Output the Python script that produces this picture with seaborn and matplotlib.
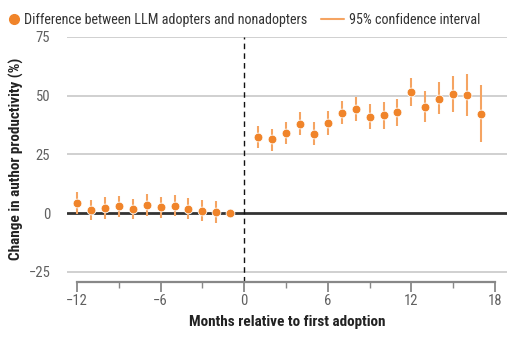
import numpy as np
import pandas as pd
import matplotlib
matplotlib.use("Agg")
import matplotlib.pyplot as plt
from matplotlib.lines import Line2D
from matplotlib import font_manager
import seaborn as sns

months = [-12, -11, -10, -9, -8, -7, -6, -5, -4, -3, -2, -1,
          1, 2, 3, 4, 5, 6, 7, 8, 9, 10, 11, 12, 13, 14, 15, 16, 17]
estimate = [4.3, 1.4, 2.3, 3.1, 1.7, 3.5, 2.4, 3.1, 1.8, 1.1, 0.4, 0.0,
            32.5, 31.4, 34.0, 38.0, 33.9, 38.3, 42.7, 44.3, 41.0, 41.6, 42.9,
            51.5, 45.4, 48.8, 50.8, 50.4, 42.4]
ci_low = [-0.2, -3.0, -2.3, -1.6, -2.7, -1.1, -2.0, -1.4, -2.6, -3.4, -4.1, np.nan,
          27.9, 26.5, 29.4, 33.2, 29.0, 33.4, 37.9, 39.2, 35.9, 35.9, 37.2,
          45.5, 38.9, 42.1, 43.2, 41.5, 30.4]
ci_high = [8.8, 5.8, 6.7, 7.4, 6.2, 8.1, 6.9, 7.7, 6.4, 5.8, 5.0, np.nan,
           37.0, 35.8, 38.7, 42.9, 38.7, 43.3, 47.9, 49.4, 46.5, 47.2, 48.7,
           57.5, 51.9, 55.8, 58.5, 59.3, 54.6]
x_ticks = [-12, -6, 0, 6, 12, 18]
x_minor = [-9, -3, 3, 9, 15]
y_ticks = [-25, 0, 25, 50, 75]

df = pd.DataFrame({"month": months, "est": estimate, "lo": ci_low, "hi": ci_high})

sns.set_theme(style="white")
avail = {f.name for f in font_manager.fontManager.ttflist}
fam = "DejaVu Sans"
for cand in ["Liberation Sans Narrow", "Roboto Condensed", "Open Sans Condensed", "Roboto", "Liberation Sans"]:
    if cand in avail:
        fam = cand
        break
plt.rcParams["font.family"] = [fam, "DejaVu Sans"]

DOT = "#F0842A"
CI = "#F5A462"
GRID = "#D0D0D0"
TICKC = "#606060"

fig = plt.figure(figsize=(5.15, 3.55), dpi=100)
ax = fig.add_axes([67 / 515, 1 - 281.7 / 355, 440 / 515, (281.7 - 37) / 355])

ax.set_xlim(-12.72, 18.86)
ax.set_ylim(-29.2, 75)

for yv in y_ticks:
    if yv != 0:
        ax.axhline(yv, color=GRID, lw=1.4, zorder=0)
ax.axhline(0, color="#333333", lw=2.0, zorder=1)
ax.axvline(0, color="#111111", lw=1.0, ls=(0, (4, 3)), zorder=1)

ax.vlines(df["month"], df["lo"], df["hi"], color=CI, lw=1.5, zorder=2)
sns.scatterplot(data=df, x="month", y="est", ax=ax, color=DOT, s=40,
                edgecolor="white", linewidth=0.6, zorder=3, legend=False)

for s in ["top", "right", "left"]:
    ax.spines[s].set_visible(False)
ax.spines["bottom"].set_bounds(-12, 18)
ax.spines["bottom"].set_color("#888888")
ax.spines["bottom"].set_linewidth(1.6)

ax.set_xticks(x_ticks)
ax.set_xticklabels(["\u221212", "\u22126", "0", "6", "12", "18"])
ax.set_xticks(x_minor, minor=True)
ax.set_yticks(y_ticks)
ax.set_yticklabels(["\u221225", "0", "25", "50", "75"])
ax.tick_params(axis="x", which="major", bottom=True, length=7, width=1.3, color="#888888",
               labelsize=10.5, labelcolor=TICKC, pad=2)
ax.tick_params(axis="x", which="minor", bottom=True, length=4, width=1.0, color="#888888")
ax.tick_params(axis="y", left=False, labelsize=10.5, labelcolor=TICKC, pad=6)

ax.set_xlabel("Months relative to first adoption", fontsize=11, fontweight="bold",
              color="#222222", labelpad=5)
ax.set_ylabel("Change in author productivity (%)", fontsize=11, fontweight="bold",
              color="#222222")
ax.yaxis.set_label_coords(-0.097, 0.5)

h1 = Line2D([], [], marker="o", ls="", color=DOT, markersize=7)
h2 = Line2D([], [], color=CI, lw=1.5)
leg1 = fig.legend([h1], ["Difference between LLM adopters and nonadopters"],
                  loc="upper left", bbox_to_anchor=(-0.012, 1.0), frameon=False,
                  fontsize=10.2, handlelength=1.0, handletextpad=0.2,
                  labelcolor="#333333")
leg2 = fig.legend([h2], ["95% confidence interval"],
                  loc="upper left", bbox_to_anchor=(0.598, 1.0), frameon=False,
                  fontsize=10.2, handlelength=1.65, handletextpad=0.35,
                  labelcolor="#333333")

fig.savefig("out.png", dpi=100)
